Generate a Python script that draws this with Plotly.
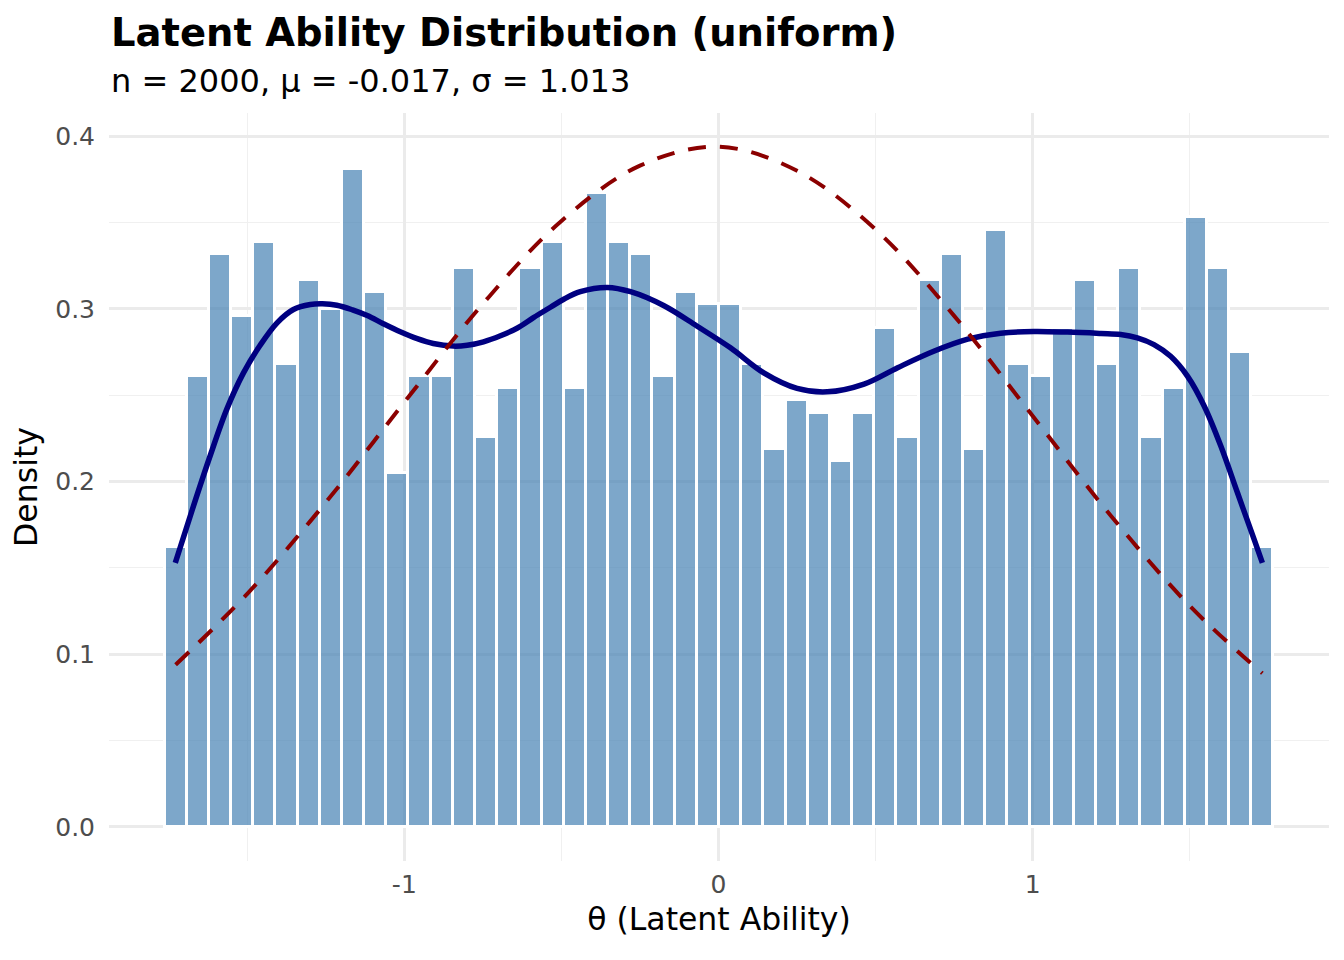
import plotly.graph_objects as go

# histogram of theta (50 bins, density scale)
theta_min = -1.728
theta_max = 1.731
n_bins = 50
bar_density = [0.162, 0.261, 0.332, 0.296, 0.339, 0.268, 0.317, 0.300, 0.381, 0.310,
               0.205, 0.261, 0.261, 0.324, 0.226, 0.254, 0.324, 0.339, 0.254, 0.367,
               0.339, 0.332, 0.261, 0.310, 0.303, 0.303, 0.268, 0.219, 0.247, 0.240,
               0.212, 0.240, 0.289, 0.226, 0.317, 0.332, 0.219, 0.346, 0.268, 0.261,
               0.289, 0.317, 0.268, 0.324, 0.226, 0.254, 0.353, 0.324, 0.275, 0.162]

# kernel density estimate (solid navy)
kde_x = [-1.729, -1.671, -1.618, -1.565, -1.512, -1.459, -1.405, -1.353, -1.299, -1.261,
         -1.215, -1.165, -1.118, -1.067, -1.013, -0.959, -0.908, -0.844, -0.8, -0.748,
         -0.694, -0.64, -0.589, -0.535, -0.494, -0.44, -0.354, -0.28, -0.175, -0.068,
         0.038, 0.144, 0.25, 0.346, 0.463, 0.57, 0.685, 0.793, 0.898, 1.003,
         1.111, 1.217, 1.28, 1.333, 1.386, 1.439, 1.493, 1.546, 1.599, 1.652, 1.705, 1.731]
kde_y = [0.153, 0.186, 0.215, 0.242, 0.263, 0.279, 0.292, 0.2997, 0.3026, 0.303,
         0.3022, 0.2995, 0.2962, 0.2915, 0.2868, 0.2828, 0.280, 0.2785, 0.279, 0.281,
         0.2845, 0.289, 0.295, 0.301, 0.3055, 0.310, 0.3125, 0.310, 0.302, 0.290,
         0.2775, 0.263, 0.254, 0.252, 0.2565, 0.266, 0.2755, 0.2825, 0.286, 0.287,
         0.2866, 0.2858, 0.2852, 0.2833, 0.2794, 0.2726, 0.261, 0.2437, 0.2205, 0.1934, 0.1664, 0.153]

# reference normal curve (dashed dark red)
norm_x = [-1.728, -1.5, -1.25, -1.0, -0.75, -0.5, -0.25, 0.0, 0.25, 0.5, 0.75, 1.0, 1.25, 1.5, 1.731]
norm_y = [0.094, 0.135, 0.188, 0.246, 0.303, 0.351, 0.383, 0.394, 0.380, 0.346, 0.296, 0.238, 0.180, 0.128, 0.089]

x_ticks = [-1, 0, 1]
x_tick_labels = ["-1", "0", "1"]
y_ticks = [0.0, 0.1, 0.2, 0.3, 0.4]
y_tick_labels = ["0.0", "0.1", "0.2", "0.3", "0.4"]

title = "Latent Ability Distribution (uniform)"
subtitle = "n = 2000, \u03bc = -0.017, \u03c3 = 1.013"

bin_width = (theta_max - theta_min) / (n_bins - 1)
bin_mids = [theta_min + i * bin_width for i in range(n_bins)]

FONT = "DejaVu Sans"

fig = go.Figure()
fig.add_trace(go.Bar(x=bin_mids, y=bar_density, width=bin_width,
    marker=dict(color="rgba(70,130,180,0.7)",
                line=dict(color="white", width=3)),
    showlegend=False, hoverinfo="skip"))
fig.add_trace(go.Scatter(x=kde_x, y=kde_y, mode="lines",
    line=dict(color="#000080", width=5.5, shape="spline", smoothing=1.0),
    showlegend=False))
fig.add_trace(go.Scatter(x=norm_x, y=norm_y, mode="lines",
    line=dict(color="#8B0000", width=4, dash="18px,14px", shape="spline"),
    showlegend=False))

# page body adds an 8px offset, so margins are shifted to compensate
fig.update_layout(
    width=1344, height=960,
    plot_bgcolor="white", paper_bgcolor="white",
    margin=dict(l=101, r=23, t=105, b=107),
    bargap=0,
    font=dict(family=FONT, color="black"),
    annotations=[
        dict(text="<b>" + title + "</b>", xref="paper", yref="paper",
             x=0, y=1.107, xanchor="left", yanchor="middle", showarrow=False,
             font=dict(size=38.5, color="black", family=FONT)),
        dict(text=subtitle, xref="paper", yref="paper",
             x=0, y=1.043, xanchor="left", yanchor="middle", showarrow=False,
             font=dict(size=32, color="black", family=FONT)),
    ],
)
fig.update_xaxes(range=[-1.94, 1.943], tickvals=x_ticks, ticktext=x_tick_labels,
    showgrid=True, gridcolor="#EBEBEB", gridwidth=2.5, zeroline=False,
    showline=False, ticks="outside", ticklen=1, tickcolor="rgba(0,0,0,0)",
    tickfont=dict(size=25, color="#4D4D4D"),
    minor=dict(showgrid=True, dtick=0.5, tick0=0, gridcolor="#F0F0F0", gridwidth=1.3),
    title=dict(text="\u03b8 (Latent Ability)", font=dict(size=31.5, color="black"), standoff=9))
fig.update_yaxes(range=[-0.0197, 0.4135], tickvals=y_ticks, ticktext=y_tick_labels,
    showgrid=True, gridcolor="#EBEBEB", gridwidth=2.5, zeroline=False,
    showline=False, ticks="outside", ticklen=8, tickcolor="rgba(0,0,0,0)",
    tickfont=dict(size=25, color="#4D4D4D"),
    minor=dict(showgrid=True, dtick=0.05, tick0=0, gridcolor="#F0F0F0", gridwidth=1.3),
    title=dict(text="Density", font=dict(size=31.5, color="black"), standoff=9))

fig.write_html("out.html")
